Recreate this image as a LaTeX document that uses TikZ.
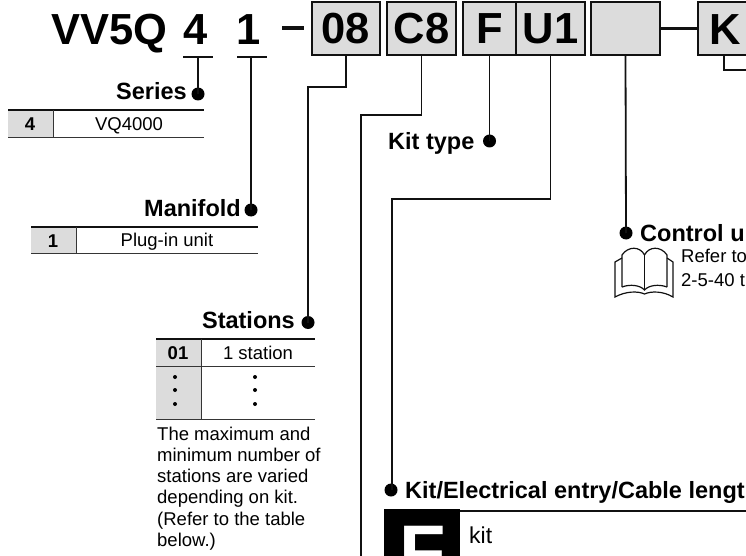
\documentclass[tikz,border=0pt]{standalone}
\usepackage{fontspec}
\setmainfont{Liberation Sans}
\definecolor{cellgray}{HTML}{DCDCDC}
\definecolor{ink}{HTML}{111111}
\newcommand{\szt}{\fontsize{43.5}{43.5}\selectfont\bfseries}
\newcommand{\szh}{\fontsize{23.5}{23.5}\selectfont\bfseries}
\newcommand{\szb}{\fontsize{18.5}{21}\selectfont}
\tikzset{
  x=1pt,y=-1pt,
  codebox/.style={draw=ink,line width=1.8pt,fill=cellgray,inner sep=0pt,minimum height=53pt,text=black,font=\szt},
  title/.style={inner sep=0pt,anchor=base,font=\szt},
  head/.style={inner sep=0pt,font=\szh},
  body/.style={inner sep=0pt,font=\szb},
  lead/.style={draw=ink,line width=1.8pt},
  bullet/.style={circle,fill=black,inner sep=0pt,minimum size=13pt},
  toprule/.style={draw=ink,line width=1.5pt},
  thinrule/.style={draw=ink!85,line width=0.9pt},
  graycell/.style={fill=cellgray,draw=none},
  smalldot/.style={circle,fill=black,inner sep=0pt,minimum size=4pt},
  bookline/.style={draw=ink,line width=1.2pt,fill=none},
}
\begin{document}
\begin{tikzpicture}
\useasboundingbox (0,0) rectangle (746,556);
\clip (0,0) rectangle (746,556);

% Title
\node[title,anchor=base west] (t0) at (51,45) {VV5Q};
\node[title] (t4) at (196,45) {4};
\node[title] (t1) at (249,45) {1};
\coordinate (dashA) at (282,28); \coordinate (dashB) at (304,28);
\draw[ink,line width=3.5pt] (dashA) -- (dashB);

% Code boxes
\node[codebox,minimum width=68pt] (b08) at (346,28.5) {08};
\node[codebox,minimum width=69pt] (bC8) at (421.5,28.5) {C8};
\node[codebox,minimum width=53pt] (bF) at (489.5,28.5) {F};
\node[codebox,minimum width=69pt] (bU) at (550.5,28.5) {U1};
\node[codebox,minimum width=69pt] (bE) at (625.5,28.5) {};
\node[codebox,minimum width=62pt] (bK) at (729,28.5) {};
\node[title] (tK) at (725,45) {K};
\draw[ink,line width=3pt] (bE.east) -- (bK.west);
\coordinate (kA) at (724,55); \coordinate (kB) at (724,70); \coordinate (kC) at (747,70);
\draw[lead,line width=1.4pt] (kA) -- (kB) -- (kC);

% Series
\coordinate (u4a) at (183,57); \coordinate (u4b) at (213,57); \coordinate (u4m) at (198,57);
\node[bullet] (dSeries) at (198,94) {};
\draw[lead] (u4a) -- (u4b);
\draw[lead] (u4m) -- (dSeries.center);
\node[head,anchor=base east] (hSeries) at (187,99.5) {Series};
\fill[graycell] (8,110) rectangle (53,137);
\draw[toprule] (8,110) -- (204,110);
\draw[thinrule] (8,137) -- (204,137);
\draw[thinrule] (53,110) -- (53,137);
\node[body,font=\szb\bfseries] (c4) at (30,124) {4};
\node[body] (cVQ) at (129,125.5) {VQ4000};

% Manifold
\coordinate (u1a) at (237,57); \coordinate (u1b) at (267,57); \coordinate (u1m) at (251,57);
\node[bullet] (dMan) at (251,210) {};
\draw[lead] (u1a) -- (u1b);
\draw[lead] (u1m) -- (dMan.center);
\node[head,anchor=base east] (hMan) at (241,216) {Manifold};
\fill[graycell] (31,227) rectangle (76,253);
\draw[toprule] (31,227) -- (258,227);
\draw[thinrule] (31,253) -- (258,253);
\draw[thinrule] (76,227) -- (76,253);
\node[body,font=\szb\bfseries] (c1) at (53,241) {1};
\node[body] (cPlug) at (167,242) {Plug-in unit};

% Stations
\coordinate (s1) at (346,87); \coordinate (s2) at (308,87);
\node[bullet] (dSta) at (308,322.5) {};
\draw[lead,line join=miter] (b08.south) -- (s1) -- (s2) -- (dSta.center);
\node[head,anchor=base east] (hSta) at (295,328) {Stations};
\fill[graycell] (156,339) rectangle (201,419);
\draw[toprule] (156,339) -- (315,339);
\draw[thinrule] (156,366) -- (315,366);
\draw[thinrule] (156,419) -- (315,419);
\draw[thinrule] (201,339) -- (201,419);
\node[body,font=\szb\bfseries] (c01) at (178,353) {01};
\node[body] (c1st) at (258,353) {1 station};
\node[smalldot] (da1) at (175,377) {};
\node[smalldot] (da2) at (175,390) {};
\node[smalldot] (da3) at (175,404) {};
\node[smalldot] (db1) at (255,377) {};
\node[smalldot] (db2) at (255,390) {};
\node[smalldot] (db3) at (255,404) {};
\node[body,anchor=north west,align=left,font=\fontsize{18.5}{21.1}\selectfont] (note) at (157,427)
 {The maximum and\\minimum number of\\stations are varied\\depending on kit.\\(Refer to the table\\below.)};

% C8 leader (runs off the bottom)
\coordinate (c1b) at (421.5,115); \coordinate (c2b) at (361,115); \coordinate (c3b) at (361,557);
\draw[lead,line join=miter] (bC8.south) -- (c1b) -- (c2b) -- (c3b);

% Kit type
\node[bullet] (dKit) at (489.5,141) {};
\draw[lead] (bF.south) -- (dKit.center);
\node[head,anchor=base west] (hKit) at (388,150) {Kit type};

% U1 leader
\coordinate (u1) at (550.5,199); \coordinate (u2) at (392,199);
\node[bullet] (dEnt) at (391,490) {};
\draw[lead,line join=miter] (bU.south) -- (u1) -- (u2) -- (u2 |- dEnt.center);
\node[head,anchor=base west] (hEnt) at (405,498.5) {Kit/Electrical entry/Cable lengt};

% Control unit
\node[bullet] (dCon) at (626,233) {};
\draw[lead] (bE.south) -- (dCon.center);
\node[head,anchor=base west] (hCon) at (640,241) {Control u};
\node[body,anchor=base west] (r1) at (681,262.5) {Refer to};
\node[body,anchor=base west] (r2) at (681,286) {2-5-40 t};

% Book icon
\draw[bookline] (622,287) -- (622,255) .. controls (628,246) and (640,246) .. (644.5,255)
  .. controls (649,246) and (661,246) .. (667,255) -- (667,287);
\draw[bookline] (644.5,255) -- (644.5,290);
\draw[bookline] (622,287) .. controls (630,284) and (640,285) .. (644.5,290)
  .. controls (649,285) and (659,284) .. (667,287);
\draw[bookline] (622,258) -- (615,262) -- (615,297) .. controls (626,291) and (638,291) .. (644.5,294)
  .. controls (651,291) and (663,291) .. (673,297) -- (673,262) -- (667,258);

% Kit section
\fill[black] (384,509) rectangle (460,560);
\node[inner sep=0pt,anchor=base,text=white,font=\fontsize{76}{76}\selectfont\bfseries] (kF) at (423,578) {F};
\draw[toprule,line width=2pt] (460,510.5) -- (747,510.5);
\node[inner sep=0pt,anchor=base west,font=\fontsize{23}{23}\selectfont] (kit) at (469,543) {kit};
\end{tikzpicture}
\end{document}
